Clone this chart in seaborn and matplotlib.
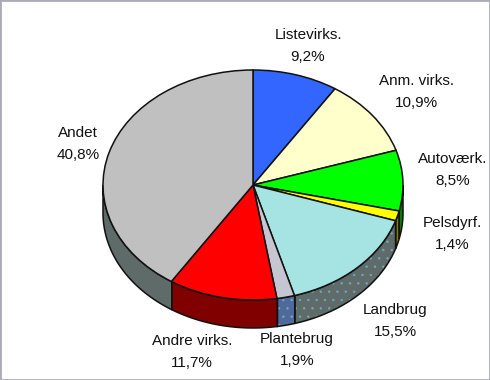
import numpy as np
import matplotlib
matplotlib.use("Agg")
import matplotlib.pyplot as plt
import seaborn as sns

# Andele i procent, med uret fra toppen
labels = ["Listevirks.", "Anm. virks.", "Autoværk.", "Pelsdyrf.", "Landbrug", "Plantebrug", "Andre virks.", "Andet"]
values = [9.2, 10.9, 8.5, 1.4, 15.5, 1.9, 11.7, 40.8]
top_colors = ["#3366FF", "#FFFFCC", "#00FF00", "#FFFF00", "#A6E3E3", "#C6C6D2", "#FF0000", "#C0C0C0"]
side_colors = ["#1A3380", "#808066", "#008000", "#808000", "#5F6B68", "#4F6A9A", "#800000", "#5F6B68"]
side_hatch = [None, None, None, None, "..", "..", None, None]

# labelplacering i pixels
label_x = [308, 416, 453, 452, 395, 297, 192, 78]
label_y = [46, 92, 170, 234, 321, 350, 352, 144]

W, H = 490, 380
cx, cy, rx, ry, depth = 253, 185, 150, 115, 28

sns.set_theme(style="white")
plt.rcParams["font.family"] = ["Liberation Sans", "DejaVu Sans"]
plt.rcParams["hatch.linewidth"] = 0.5

fig = plt.figure(figsize=(W / 100, H / 100), dpi=100)
ax = fig.add_axes([0, 0, 1, 1])
d = depth / ry

# siden af kagen
ends = 90 - np.cumsum(values) * 3.6
starts = ends + np.array(values) * 3.6
for a0, a1, col, hatch in zip(starts, ends, side_colors, side_hatch):
    # kun den forreste halvdel kan ses
    lo = np.mod(a1, 360)
    hi = lo + (a0 - a1)
    for lo2, hi2 in [(lo, hi), (lo - 360, hi - 360)]:
        l, h = max(lo2, 180), min(hi2, 360)
        if h <= l:
            continue
        t = np.radians(np.linspace(l, h, 40))
        xs = np.r_[np.cos(t), np.cos(t[::-1])]
        ys = np.r_[np.sin(t), np.sin(t[::-1]) - d]
        ax.fill(xs, ys, facecolor=col, edgecolor="#6FA8C0" if hatch else col, hatch=hatch, lw=0, zorder=1)
        ax.fill(xs, ys, fill=False, edgecolor="#111111", lw=1.1, zorder=2)

# toppen
ax.pie(values, colors=sns.color_palette(top_colors), startangle=90, counterclock=False,
       wedgeprops={"edgecolor": "#111111", "linewidth": 1.1, "zorder": 3})
ax.set_aspect("auto")
ax.set_xlim(-cx / rx, (W - cx) / rx)
ax.set_ylim((cy - H) / ry, cy / ry)

for name, v, x, y in zip(labels, values, label_x, label_y):
    txt = name + "\n" + f"{v:.1f}".replace(".", ",") + "%"
    fig.text(x / W, 1 - y / H, txt, ha="center", va="center", fontsize=11,
             color="#111111", linespacing=1.7)

# grå ramme
ax.set_frame_on(True)
for s in ax.spines.values():
    s.set_visible(True)
    s.set_color("#ABABB8")
    s.set_linewidth(2)

fig.savefig("out.png", dpi=100)
